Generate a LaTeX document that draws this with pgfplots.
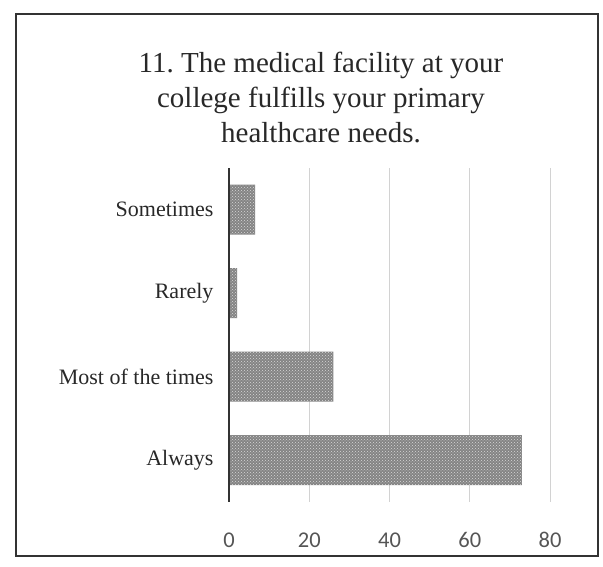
\documentclass[border=0pt]{standalone}
\usepackage{fontspec}
\setmainfont{Liberation Serif}
\newfontfamily\tickfont{Carlito}
\usepackage{pgfplots}
\pgfplotsset{compat=1.18}
\usetikzlibrary{patterns}
\definecolor{barfill}{RGB}{132,132,132}
\definecolor{textcol}{RGB}{40,40,40}
\definecolor{tickcol}{RGB}{85,85,85}
\frenchspacing
\begin{document}
\begin{tikzpicture}
\path[use as bounding box] (0pt,0pt) rectangle (603pt,567pt);
\draw[line width=1.6pt, black!80] (16pt,11pt) rectangle (598pt,553pt);
\node[anchor=north, align=center, inner sep=0pt, text=textcol,
      font=\fontsize{29}{35}\selectfont] at (321pt,515pt)
  {11. The medical facility at your\\college fulfills your primary\\healthcare needs.};
\begin{axis}[
  at={(229pt,65pt)}, anchor=south west,
  scale only axis, width=321pt, height=334pt,
  xbar, bar width=50pt,
  xmin=0, xmax=80, ymin=-0.5, ymax=3.5,
  ytick={0,1,2,3},
  yticklabels={Always, Most of the times, Rarely, Sometimes},
  xtick={0,20,40,60,80},
  axis line style={draw=none},
  major tick length=0pt,
  xmajorgrids, grid style={gray!35, line width=0.8pt},
  yticklabel style={font=\fontsize{22}{26}\selectfont, text=textcol, xshift=-12pt},
  xticklabel style={font=\tickfont\fontsize{22.5}{26}\selectfont, text=tickcol,
     anchor=base, yshift=-46pt},
  /pgf/number format/assume math mode=true,
  clip=false,
]
\addplot[draw=none, fill=barfill,
  postaction={pattern=crosshatch dots, pattern color=gray!30!white}]
  coordinates {(73,0) (26,1) (2,2) (6.5,3)};
\draw[line width=2.5pt, black!80] (axis cs:0,-0.5) -- (axis cs:0,3.5);
\end{axis}
\end{tikzpicture}
\end{document}
